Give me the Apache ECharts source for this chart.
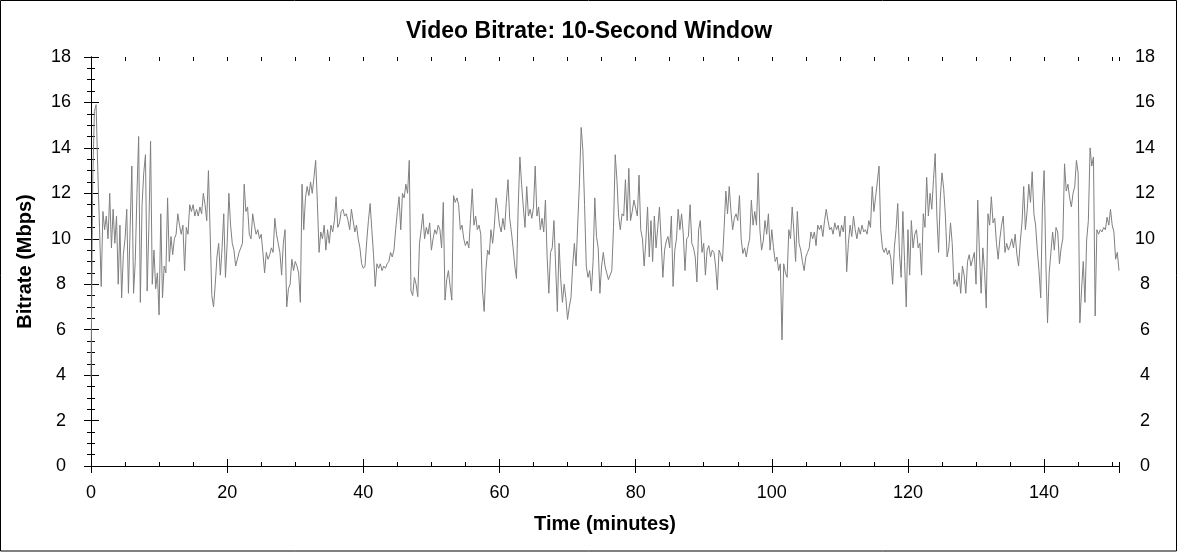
<!DOCTYPE html>
<html>
<head>
<meta charset="utf-8">
<script src="https://cdn.jsdelivr.net/npm/echarts@6/dist/echarts.min.js"></script>
<style>
html,body{margin:0;padding:0;background:#fff;}
#c{width:1178px;height:552px;}
</style>
</head>
<body>
<div id="c"></div>
<script>
const titleText = 'Video Bitrate: 10-Second Window';
const xName = 'Time (minutes)';
const yName = 'Bitrate (Mbps)';
const sampleStepMinutes = 0.25;
const xMin = 0, xMax = 151, xMajor = 20, xMinor = 5;
const yMin = 0, yMax = 18, yMajor = 2;
// one row per minute: values at m, m+0.25, m+0.5, m+0.75
const bitrate = [
3.9,12.5,15.6,15.9, 13.0,10.5,7.9,11.2, 10.4,11.0,10.0,12.0, 9.6,11.3,9.8,11.0,
8.0,10.6,7.4,9.3, 10.0,11.3,7.6,10.5, 13.2,7.6,9.0,12.0, 14.5,7.2,11.5,12.9,
13.7,7.7,10.5,14.3, 8.0,9.5,7.8,8.5, 6.65,11.1,7.4,8.8, 8.5,11.8,9.0,10.1,
9.3,10.0,10.2,11.1, 10.6,10.2,10.6,8.6, 10.5,10.2,11.5,11.2, 11.5,11.0,11.3,11.0,
11.4,11.1,12.0,11.5, 10.8,13.0,10.3,7.5, 7.0,8.0,9.2,9.8, 8.4,9.6,11.1,8.3,
9.8,12.0,10.6,9.8, 9.5,8.8,9.1,9.4, 9.6,9.8,12.4,11.2, 11.4,10.2,10.0,11.1,
10.6,10.2,10.4,10.0, 10.2,9.4,8.5,9.4, 9.1,9.3,9.6,9.4, 10.9,10.2,9.8,9.4,
8.4,9.8,10.4,7.0, 7.8,8.0,9.1,8.6, 9.0,8.8,8.5,7.2, 12.4,10.4,11.8,12.3,
11.9,12.5,12.0,12.7, 13.45,11.6,9.4,10.3, 10.0,10.6,9.5,10.4, 9.8,10.6,10.3,10.8,
11.85,10.5,10.7,11.2, 11.3,11.0,11.1,10.8, 10.4,11.3,10.8,10.3, 10.6,10.0,9.6,8.9,
8.7,8.8,9.9,10.8, 11.55,10.4,9.3,7.9, 8.9,8.7,8.9,8.6, 8.8,8.7,8.9,9.0,
9.4,9.2,9.5,10.4, 11.2,11.85,10.4,12.0, 11.8,12.4,12.0,13.45, 7.7,7.5,8.3,8.0,
7.45,9.8,10.4,11.1, 10.0,10.5,10.2,10.7, 9.5,10.0,10.4,10.2, 10.6,10.4,9.6,11.6,
7.3,8.2,8.6,7.9, 7.3,11.9,11.6,11.8, 11.5,10.4,10.6,10.0, 9.7,9.9,9.6,10.9,
12.2,10.6,11.0,10.4, 10.6,10.2,7.75,6.8, 8.6,9.5,9.3,10.4, 9.8,10.6,11.8,11.3,
10.6,10.3,10.9,10.4, 11.6,12.6,10.9,10.3, 9.6,8.8,8.25,11.4, 13.6,12.4,11.4,10.5,
12.3,11.0,11.3,10.9, 11.4,13.2,11.0,11.4, 10.4,10.9,10.3,11.7, 9.2,7.6,9.4,9.6,
10.8,8.8,6.8,9.8, 8.2,7.2,8.0,7.4, 6.45,7.0,7.4,8.8, 9.8,8.8,10.7,12.5,
14.9,13.9,11.5,8.8, 8.3,8.6,7.7,9.0, 11.8,10.1,9.6,7.6, 8.8,9.4,8.8,8.5,
8.2,8.4,8.6,10.5, 13.7,12.6,11.0,10.4, 11.1,11.0,12.6,10.8, 13.1,10.8,11.2,11.7,
11.7,11.0,12.8,10.4, 10.0,8.8,9.9,11.4, 9.2,10.8,9.0,11.0, 9.6,10.5,11.4,9.9,
8.3,9.5,9.9,10.1, 9.6,11.0,7.9,9.5, 10.0,11.3,10.4,11.1, 10.2,8.6,10.0,10.1,
11.5,9.8,9.6,9.2, 8.1,10.4,10.8,9.4, 9.8,8.4,9.5,9.7, 9.2,9.5,9.4,8.8,
7.75,9.5,9.3,9.0, 10.5,12.1,11.1,12.3, 11.2,10.4,10.9,11.1, 10.8,11.9,10.0,9.35,
9.6,9.2,9.65,10.0, 11.7,10.6,11.2,10.6, 12.9,10.4,9.5,9.9, 10.8,10.2,11.1,9.5,
10.4,9.6,9.0,9.2, 8.6,8.9,5.55,8.9, 8.5,8.3,10.4,10.0, 11.4,10.3,9.0,11.2,
9.8,9.5,9.0,8.6, 9.2,9.4,9.6,10.3, 10.0,10.3,9.7,10.6, 10.4,10.6,10.1,10.8,
11.3,10.8,10.4,10.5, 10.2,10.7,10.4,10.6, 10.1,10.6,10.3,11.0, 8.55,9.8,10.6,10.1,
11.0,10.4,10.0,10.5, 10.2,10.6,10.3,10.4, 10.2,10.8,10.5,12.3, 11.2,11.85,12.5,13.2,
10.4,9.6,9.4,9.6, 9.3,9.5,9.1,8.0, 9.6,10.4,11.55,9.4, 8.3,11.2,9.0,7.0,
10.4,8.4,10.8,9.6, 10.2,10.4,9.6,9.8, 8.4,11.1,10.5,12.7, 11.0,12.0,11.3,12.6,
13.75,11.0,9.4,11.8, 12.9,12.2,11.0,9.2, 9.6,10.7,9.8,8.0, 8.2,7.9,8.5,7.6,
8.8,8.4,7.6,9.0, 9.3,8.8,9.1,9.4, 8.0,11.7,9.4,7.6, 9.6,8.6,6.95,11.1,
10.6,11.85,10.7,10.9, 9.8,9.1,10.0,10.6, 11.0,9.4,9.8,9.5, 9.7,10.0,9.6,10.2,
9.3,8.8,9.9,10.7, 12.3,10.4,11.2,12.4, 11.6,12.95,11.1,10.6, 9.5,8.6,7.4,11.4,
13.0,9.0,6.3,8.5, 9.4,10.3,9.5,10.5, 10.3,8.9,9.6,10.0, 13.3,12.1,12.4,11.8,
11.4,12.0,12.3,13.45, 12.9,6.3,7.75,9.0, 7.2,9.95,10.8,14.0, 13.2,13.6,6.6,10.4,
10.2,10.4,10.3,10.5, 10.4,10.95,10.6,11.3, 10.6,10.3,9.1,9.4, 8.6
];

const seriesData = bitrate.map((v, i) => [i * sampleStepMinutes, v]);

const FONT = 'Liberation Sans, Arial, sans-serif';
const black = '#000';
const line = {show: true, lineStyle: {color: black, width: 1}};
const noLine = {show: false};
const noLabel = {show: false};
const hidden = {show: false};

function xa(opts) {
  return Object.assign({
    type: 'value', min: xMin, max: xMax, interval: xMajor,
    splitLine: hidden, minorTick: hidden, minorSplitLine: hidden,
    axisLine: noLine, axisLabel: noLabel
  }, opts);
}
function ya(opts) {
  return Object.assign({
    type: 'value', min: yMin, max: yMax, interval: yMajor,
    splitLine: hidden, minorTick: hidden, minorSplitLine: hidden,
    axisLine: noLine, axisLabel: noLabel
  }, opts);
}

const chart = echarts.init(document.getElementById('c'));
chart.setOption({
  animation: false,
  backgroundColor: '#fff',
  title: {
    text: titleText, left: 'center', top: 15,
    textStyle: {fontFamily: FONT, fontSize: 23, fontWeight: 'bold', color: black}
  },
  grid: {left: 91, right: 59, top: 57, bottom: 86, containLabel: false},
  xAxis: [
    xa({position: 'bottom', axisLine: line,
        axisTick: {show: true, inside: true, length: 7, lineStyle: {color: black}},
        axisLabel: {show: true, showMaxLabel: false, margin: 18, fontFamily: FONT, fontSize: 18, color: black},
        name: xName, nameLocation: 'middle', nameGap: 48,
        nameTextStyle: {fontFamily: FONT, fontSize: 20, fontWeight: 'bold', color: black}}),
    xa({position: 'bottom', axisTick: {show: true, inside: false, length: 7, lineStyle: {color: black}}}),
    xa({position: 'bottom', interval: xMinor, axisTick: {show: true, inside: true, length: 4, lineStyle: {color: black}}}),
    xa({position: 'top', axisLine: line, axisTick: {show: true, inside: true, length: 7, lineStyle: {color: black}}}),
    xa({position: 'top', interval: xMinor, axisTick: {show: true, inside: true, length: 4, lineStyle: {color: black}}})
  ],
  yAxis: [
    ya({position: 'left', axisLine: line,
        axisTick: {show: true, inside: false, length: 7, lineStyle: {color: black}},
        minorTick: {show: true, splitNumber: 4, length: 4, lineStyle: {color: black}},
        axisLabel: {show: true, margin: 30, align: 'center', fontFamily: FONT, fontSize: 18, color: black},
        name: yName, nameLocation: 'middle', nameGap: 56, nameRotate: 90,
        nameTextStyle: {fontFamily: FONT, fontSize: 20, fontWeight: 'bold', color: black}}),
    ya({position: 'left', axisTick: {show: true, inside: true, length: 7, lineStyle: {color: black}}}),
    ya({position: 'right', axisLine: line,
        axisTick: {show: true, inside: false, length: 8, lineStyle: {color: black}},
        minorTick: {show: true, splitNumber: 4, length: 4, lineStyle: {color: black}},
        axisLabel: {show: true, margin: 26, align: 'center', fontFamily: FONT, fontSize: 18, color: black}}),
    ya({position: 'right', axisTick: {show: true, inside: true, length: 7, lineStyle: {color: black}}})
  ],
  series: [{
    type: 'line', xAxisIndex: 0, yAxisIndex: 0,
    data: seriesData, showSymbol: false, symbol: 'none',
    lineStyle: {color: '#808080', width: 1}, silent: true
  }],
  graphic: [{
    type: 'rect', shape: {x: 0.5, y: 0.5, width: 1176, height: 550.5},
    style: {fill: 'none', stroke: black, lineWidth: 1}, silent: true, z: 100
  }]
});
</script>
</body>
</html>
